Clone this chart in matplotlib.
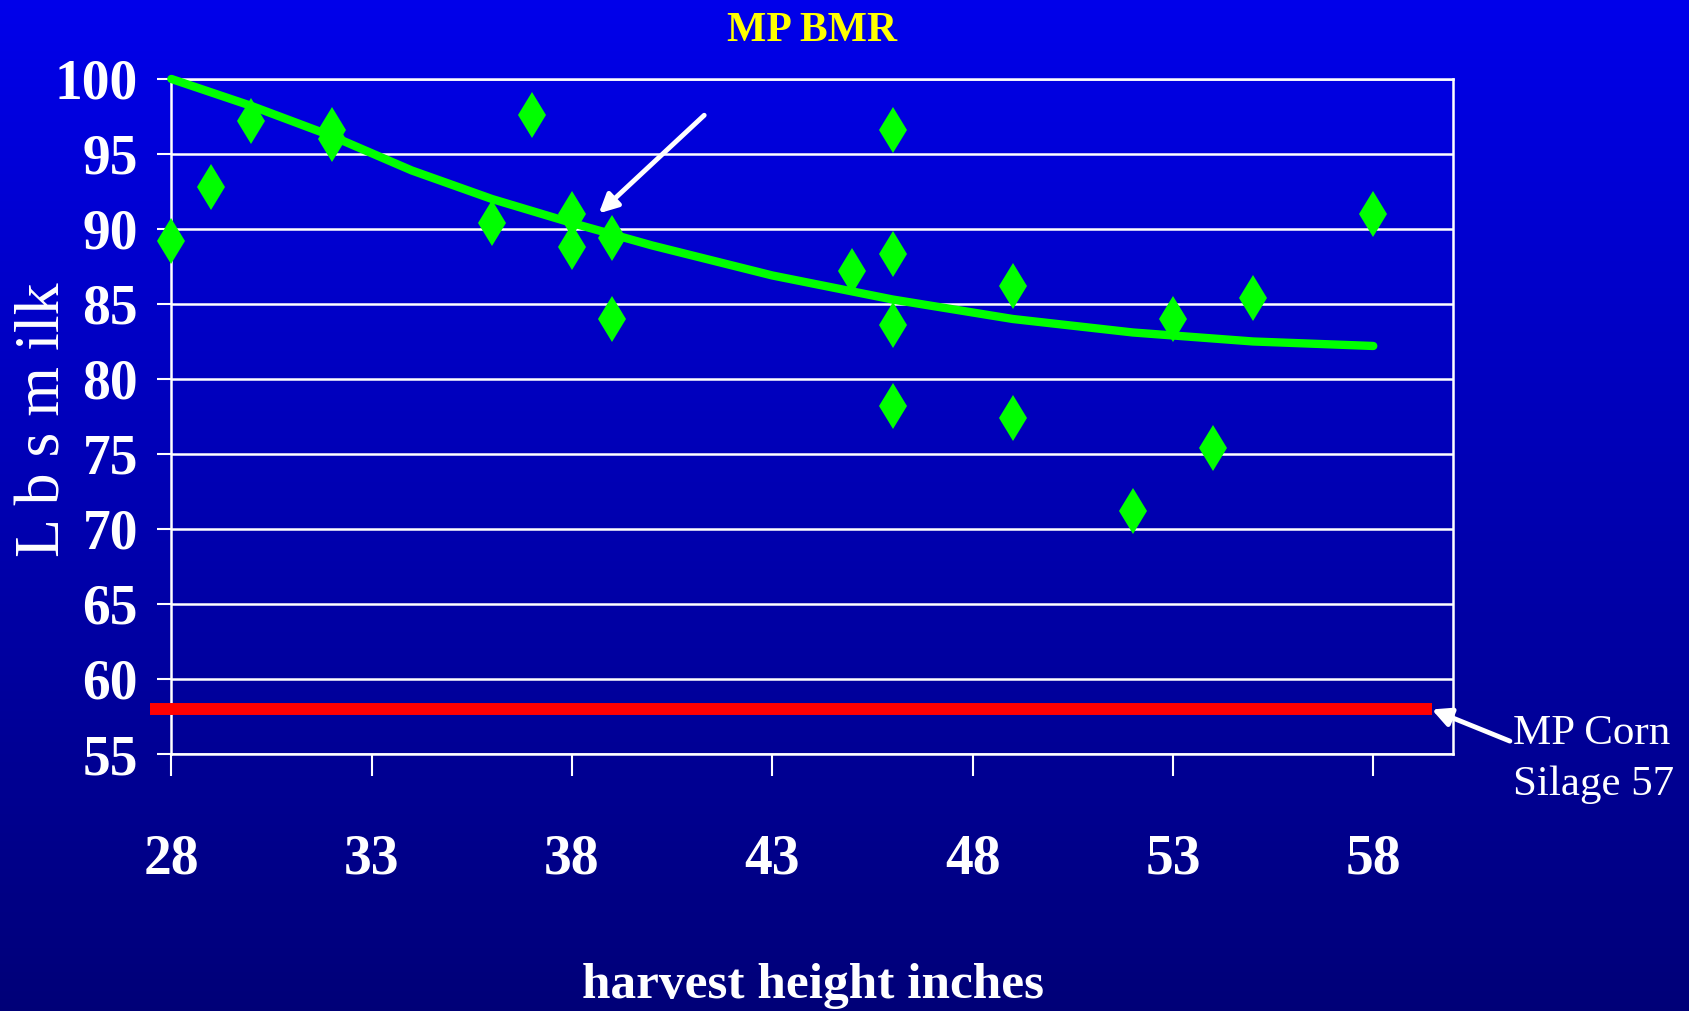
import matplotlib
matplotlib.use("Agg")
import matplotlib.pyplot as plt
import numpy as np

# ── Data ──────────────────────────────────────────────────────────────────────

# harvest height (inches) vs lbs milk, MP BMR
height_in = [28, 29, 30, 32, 32, 36, 37, 38, 38, 39, 39,
             45, 46, 46, 46, 46, 49, 49, 52, 53, 54, 55, 58]
lbs_milk = [89.2, 92.8, 97.2, 96.6, 96.0, 90.4, 97.6, 91.0, 88.8, 89.4, 84.0,
            87.2, 96.6, 88.3, 83.6, 78.2, 86.2, 77.4, 71.2, 84.0, 75.4, 85.4, 91.0]

# trend line
trend_x = [28, 30, 32, 34, 36, 38, 40, 43, 46, 49, 52, 55, 58]
trend_y = [100.0, 98.2, 96.2, 93.9, 92.0, 90.4, 88.9, 86.9, 85.3, 84.0, 83.1, 82.5, 82.2]

# MP corn silage reference level
corn_level = 58
corn_span = [27.47, 59.46]

x_ticks = [28, 33, 38, 43, 48, 53, 58]
y_ticks = [55, 60, 65, 70, 75, 80, 85, 90, 95, 100]

# ── Style ─────────────────────────────────────────────────────────────────────

GREEN = "#00FF00"
RED = "#FF0000"
YELLOW = "#FFFF00"

plt.rcParams.update({
    "font.family": ["Liberation Serif", "DejaVu Serif"],
    "font.weight": "bold",
})

fig = plt.figure(figsize=(16.9, 10.11), dpi=100)

# blue gradient backdrop
bg = fig.add_axes([0, 0, 1, 1], zorder=-1)
blue = np.linspace(0.92, 0.47, 256)
grad = np.zeros((256, 1, 3))
grad[:, 0, 2] = blue
bg.imshow(grad, aspect="auto", extent=[0, 1, 0, 1])
bg.axis("off")

ax = fig.add_axes([0.1014, 0.2542, 0.7586, 0.6677])
ax.patch.set_alpha(0)

ax.plot(corn_span, [corn_level, corn_level], color=RED, lw=8.6,
        solid_capstyle="butt", clip_on=False, zorder=3)
ax.plot(trend_x, trend_y, color=GREEN, lw=6, solid_capstyle="round",
        clip_on=False, zorder=4)
ax.plot(height_in, lbs_milk, linestyle="none", marker="d", markersize=23,
        color=GREEN, markeredgewidth=0, clip_on=False, zorder=5)

ax.set_xlim(28, 60)
ax.set_ylim(55, 100)
ax.set_xticks(x_ticks)
ax.set_yticks(y_ticks)
ax.yaxis.grid(True, color="white", lw=1.8)
ax.set_axisbelow(True)
for sp in ax.spines.values():
    sp.set_color("white")
    sp.set_linewidth(1.8)

ax.tick_params(axis="y", length=10, width=1.5, colors="white",
               pad=14, labelsize=40)
ax.tick_params(axis="x", length=16, width=1.5, colors="white",
               pad=41, labelsize=40)

# arrow pointing at the trend line
ax.annotate("", xy=(38.67, 91.04), xytext=(41.30, 97.58),
            arrowprops=dict(arrowstyle="-|>", color="white", lw=3.5,
                            mutation_scale=28, shrinkA=0, shrinkB=0))
# arrow to the corn silage line
ax.annotate("", xy=(59.46, 57.97), xytext=(61.41, 55.86),
            annotation_clip=False,
            arrowprops=dict(arrowstyle="-|>", color="white", lw=3.5,
                            mutation_scale=28, shrinkA=0, shrinkB=0))

fig.text(0.4808, 0.9597, "MP BMR", color=YELLOW, fontsize=30,
         fontweight="bold", ha="center", va="baseline")
fig.text(0.0263, 0.585, "L b s m ilk", color="white", fontsize=46,
         fontweight="normal", rotation=90, ha="center", va="center")
fig.text(0.4808, 0.013, "harvest height inches", color="white",
         fontsize=37, fontweight="bold", ha="center", va="baseline")
fig.text(0.8953, 0.293, "MP Corn\nSilage 57", color="white", fontsize=31,
         fontweight="normal", ha="left", va="top", linespacing=1.4)

fig.savefig("out.png", dpi=100)
